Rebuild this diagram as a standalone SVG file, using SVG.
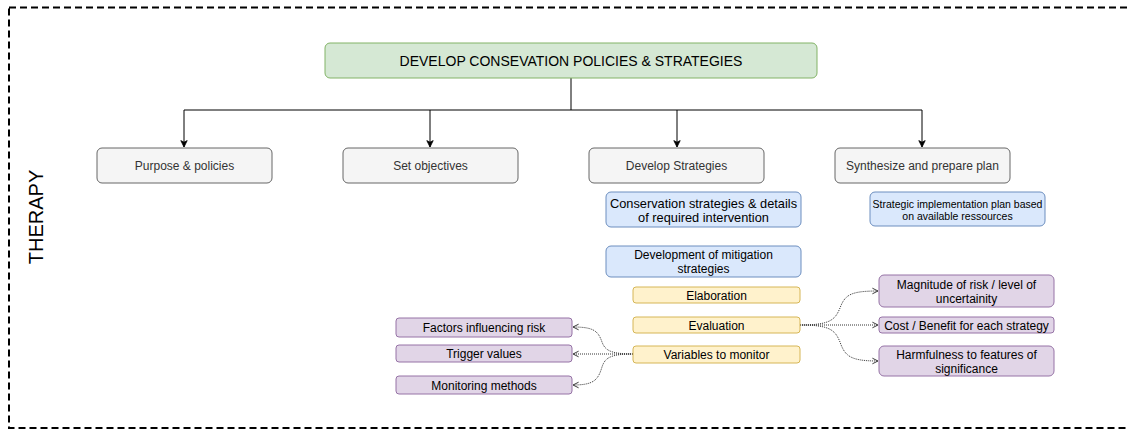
<svg xmlns="http://www.w3.org/2000/svg" width="1127" height="430" viewBox="0 0 1127 430">
<defs>
<style>
text{font-family:"Liberation Sans",Arial,sans-serif;text-anchor:middle;dominant-baseline:central}
.g{fill:#f5f5f5;stroke:#666666;stroke-width:1}
.gt{font-size:12px;fill:#333333}
.b{fill:#dae8fc;stroke:#6c8ebf;stroke-width:1}
.y{fill:#fff2cc;stroke:#d6b656;stroke-width:1}
.p{fill:#e1d5e7;stroke:#9673a6;stroke-width:1}
.t{font-size:12px;fill:#000}
.solid{fill:none;stroke:#000;stroke-width:1}
.dot{fill:none;stroke:#333;stroke-width:1;stroke-dasharray:1 1}
</style>
<marker id="arr" viewBox="0 0 10 10" refX="9" refY="5" markerWidth="8" markerHeight="8" markerUnits="userSpaceOnUse" orient="auto">
<path d="M1,1 L9,5 L1,9 L3,5 Z" fill="#000" stroke="#000"/>
</marker>
<marker id="open" viewBox="0 0 10 10" refX="9" refY="5" markerWidth="8" markerHeight="8" markerUnits="userSpaceOnUse" orient="auto">
<path d="M2,1.5 L9,5 L2,8.5" fill="none" stroke="#333" stroke-width="1.2"/>
</marker>
</defs>
<rect x="9" y="7.5" width="1140" height="420.5" fill="none" stroke="#000" stroke-width="2" stroke-dasharray="7 4"/>
<text x="36" y="217" font-size="20" transform="rotate(-90 36 217)" fill="#000">THERAPY</text>

<g id="connectors">
<path class="solid" d="M571,78 V110"/>
<path class="solid" d="M184,110 H922"/>
<path class="solid" d="M184,110 V147" marker-end="url(#arr)"/>
<path class="solid" d="M430,110 V147" marker-end="url(#arr)"/>
<path class="solid" d="M677,110 V147" marker-end="url(#arr)"/>
<path class="solid" d="M922,110 V147" marker-end="url(#arr)"/>
<path class="dot" d="M800,325 C830,325 835,320 840,308 C845,295 850,291 878,291" marker-end="url(#open)"/>
<path class="dot" d="M800,325 H878" marker-end="url(#open)"/>
<path class="dot" d="M800,325 C830,325 835,330 840,342 C845,356 850,361 878,361" marker-end="url(#open)"/>
<path class="dot" d="M633,354 C610,354 605,350 602,342 C598,331 594,327 573,327" marker-end="url(#open)"/>
<path class="dot" d="M633,354 H573" marker-end="url(#open)"/>
<path class="dot" d="M633,354 C610,354 605,358 602,367 C598,380 594,385 573,385" marker-end="url(#open)"/>
</g>

<g id="top"><rect x="325" y="43" width="492" height="35" rx="5" fill="#d5e8d4" stroke="#82b366"/><text x="571" y="60.5" font-size="14" fill="#000">DEVELOP CONSEVATION POLICIES &amp; STRATEGIES</text></g>

<g id="purpose"><rect class="g" x="97" y="148" width="175" height="35" rx="5"/><text class="gt" x="184.5" y="165.5">Purpose &amp; policies</text></g>
<g id="objectives"><rect class="g" x="343" y="148" width="175" height="35" rx="5"/><text class="gt" x="430.5" y="165.5">Set objectives</text></g>
<g id="strategies"><rect class="g" x="589" y="148" width="175" height="35" rx="5"/><text class="gt" x="676.5" y="165.5">Develop Strategies</text></g>
<g id="synthesize"><rect class="g" x="835" y="148" width="175" height="35" rx="5"/><text class="gt" x="922.5" y="165.5">Synthesize and prepare plan</text></g>

<g id="conservation"><rect class="b" x="606" y="192" width="195" height="35" rx="5"/><text x="703.5" y="203" font-size="12.8" fill="#000">Conservation strategies &amp; details</text><text x="703.5" y="217" font-size="12.8" fill="#000">of required intervention</text></g>
<g id="strategic"><rect class="b" x="870" y="192" width="175" height="34" rx="5"/><text x="957.5" y="203.5" font-size="10.5" fill="#000">Strategic implementation plan based</text><text x="957.5" y="215.5" font-size="10.5" fill="#000">on available ressources</text></g>
<g id="mitigation"><rect class="b" x="606" y="246" width="195" height="31" rx="5"/><text class="t" x="703.5" y="255">Development of mitigation</text><text class="t" x="703.5" y="269">strategies</text></g>

<g id="elaboration"><rect class="y" x="633" y="287" width="167" height="16" rx="3"/><text class="t" x="716.5" y="295.5">Elaboration</text></g>
<g id="evaluation"><rect class="y" x="633" y="317" width="167" height="16" rx="3"/><text class="t" x="716.5" y="325.5">Evaluation</text></g>
<g id="variables"><rect class="y" x="633" y="346" width="167" height="17" rx="3"/><text class="t" x="716.5" y="355">Variables to monitor</text></g>

<g id="factors"><rect class="p" x="396" y="318" width="176" height="19" rx="3"/><text class="t" x="484" y="328">Factors influencing risk</text></g>
<g id="trigger"><rect class="p" x="396" y="345" width="176" height="17" rx="3"/><text class="t" x="484" y="354">Trigger values</text></g>
<g id="monitoring"><rect class="p" x="396" y="376" width="176" height="18" rx="3"/><text class="t" x="484" y="385.5">Monitoring methods</text></g>

<g id="magnitude"><rect class="p" x="879" y="275" width="175" height="32" rx="5"/><text class="t" x="966.5" y="285">Magnitude of risk / level of</text><text class="t" x="966.5" y="299">uncertainity</text></g>
<g id="cost"><rect class="p" x="879" y="317" width="175" height="16" rx="3"/><text x="966.5" y="325.5" font-size="12" fill="#000">Cost / Benefit for each strategy</text></g>
<g id="harm"><rect class="p" x="879" y="346" width="175" height="30" rx="5"/><text class="t" x="966.5" y="355">Harmfulness to features of</text><text class="t" x="966.5" y="369">significance</text></g>
</svg>
